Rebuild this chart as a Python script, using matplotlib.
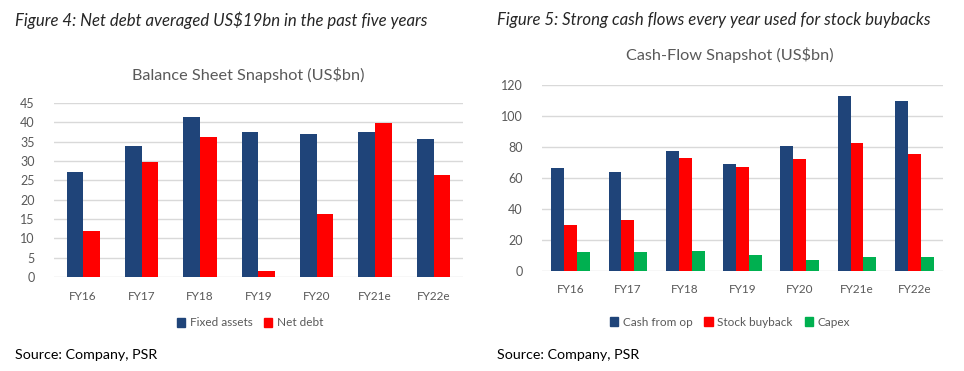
import matplotlib.pyplot as plt
import numpy as np
from matplotlib.patches import Patch

plt.rcParams['font.family'] = ['Lato', 'DejaVu Sans']

years = ["FY16", "FY17", "FY18", "FY19", "FY20", "FY21e", "FY22e"]

fixed_assets = [27.1, 33.9, 41.5, 37.4, 36.9, 37.4, 35.7]
net_debt = [11.8, 29.7, 36.3, 1.5, 16.4, 39.8, 26.4]

cash_from_op = [66.2, 63.7, 77.4, 69.0, 80.4, 113.3, 109.5]
stock_buyback = [29.5, 32.9, 72.9, 66.9, 72.0, 82.8, 75.3]
capex = [12.3, 12.3, 13.1, 10.1, 6.9, 9.2, 9.2]

BLUE = '#1f4479'
RED = '#ff0000'
GREEN = '#00b050'
GRID = '#d9d9d9'
TXT = '#595959'

fig = plt.figure(figsize=(9.64, 3.71), dpi=100)


def style_ax(ax, ymax, step):
    ax.set_ylim(0, ymax)
    ax.set_yticks(np.arange(0, ymax + 1, step))
    ax.grid(axis='y', color=GRID, linewidth=1)
    ax.set_axisbelow(True)
    for s in ax.spines.values():
        s.set_visible(False)
    ax.tick_params(length=0, colors=TXT, labelsize=9)
    ax.tick_params(axis='y', pad=14)
    ax.set_xlim(-0.5, len(years) - 0.5)
    ax.set_xticks(range(len(years)))
    ax.set_xticklabels(years, fontsize=8.5)


x = np.arange(len(years))

# left chart
ax1 = fig.add_axes([0.056, 0.2534, 0.424, 0.469])
w = 0.285
ax1.bar(x - w / 2, fixed_assets, w, color=BLUE)
ax1.bar(x + w / 2, net_debt, w, color=RED)
style_ax(ax1, 45, 5)
ax1.tick_params(axis='x', pad=10)

# right chart
ax2 = fig.add_axes([0.5622, 0.2695, 0.416, 0.501])
w2 = 0.225
ax2.bar(x - w2, cash_from_op, w2, color=BLUE)
ax2.bar(x, stock_buyback, w2, color=RED)
ax2.bar(x + w2, capex, w2, color=GREEN)
style_ax(ax2, 120, 20)
ax2.tick_params(axis='x', pad=9)

# titles
fig.text(15 / 964, 1 - 20 / 371, "Figure 4: Net debt averaged US$19bn in the past five years",
         style='italic', fontsize=12.1, color='#262626', va='center', ha='left')
fig.text(497 / 964, 1 - 20 / 371, "Figure 5: Strong cash flows every year used for stock buybacks",
         style='italic', fontsize=12.1, color='#262626', va='center', ha='left')
fig.text(248 / 964, 1 - 75 / 371, "Balance Sheet Snapshot (US$bn)",
         fontsize=11.7, color=TXT, va='center', ha='center')
fig.text(730 / 964, 1 - 55 / 371, "Cash-Flow Snapshot (US$bn)",
         fontsize=11.7, color=TXT, va='center', ha='center')

# legends
h1 = [Patch(color=BLUE, label="Fixed assets"), Patch(color=RED, label="Net debt")]
fig.legend(handles=h1, loc='center', bbox_to_anchor=(250 / 964, 1 - 323 / 371),
           ncol=2, frameon=False, fontsize=8.5, handlelength=0.7, handleheight=0.7,
           handletextpad=0.4, columnspacing=1.0, labelcolor=TXT)
h2 = [Patch(color=BLUE, label="Cash from op"), Patch(color=RED, label="Stock buyback"),
      Patch(color=GREEN, label="Capex")]
fig.legend(handles=h2, loc='center', bbox_to_anchor=(730 / 964, 1 - 322 / 371),
           ncol=3, frameon=False, fontsize=8.5, handlelength=0.7, handleheight=0.7,
           handletextpad=0.4, columnspacing=1.0, labelcolor=TXT)

# source
fig.text(15 / 964, 1 - 355 / 371, "Source: Company, PSR", fontsize=10.3, color='black', va='center')
fig.text(497 / 964, 1 - 355 / 371, "Source: Company, PSR", fontsize=10.3, color='black', va='center')

fig.savefig("out.png", dpi=100)
